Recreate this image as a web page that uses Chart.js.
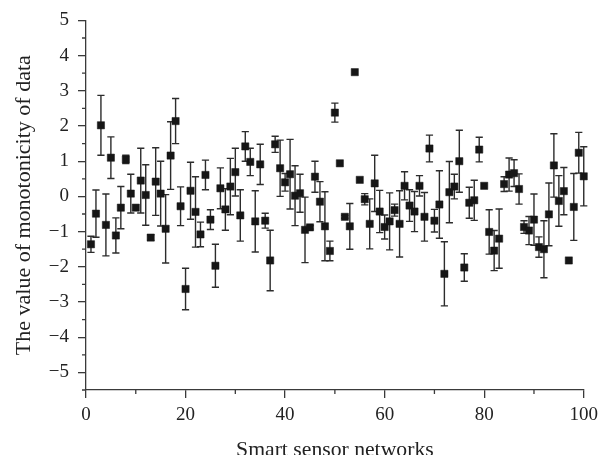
<!DOCTYPE html>
<html>
<head>
<meta charset="utf-8">
<script src="https://cdn.jsdelivr.net/npm/chart.js@4/dist/chart.umd.min.js"></script>
<style>
  html, body { margin: 0; padding: 0; background: #ffffff; }
  #wrap { width: 604px; height: 455px; }
</style>
</head>
<body>
<div id="wrap"><canvas id="chart" width="604" height="455"></canvas></div>
<script>
// Sensor network index (x) and measured monotonicity with its spread (±)
const nodes = [
  1, 2, 3, 4, 5, 6, 7, 8, 9, 10,
  11, 12, 13, 14, 15, 16, 17, 18, 19, 20,
  21, 22, 23, 24, 25, 26, 27, 28, 29, 30,
  31, 32, 33, 34, 35, 36, 37, 38, 39, 40,
  41, 42, 43, 44, 45, 46, 47, 48, 49, 50,
  51, 52, 53, 54, 55, 56, 57, 58, 59, 60,
  61, 62, 63, 64, 65, 66, 67, 68, 69, 70,
  71, 72, 73, 74, 75, 76, 77, 78, 79, 80,
  81, 82, 83, 84, 85, 86, 87, 88, 89, 90,
  91, 92, 93, 94, 95, 96, 97, 98, 99, 100
];
const monotonicity = [
  -1.36, -0.49, 2.02, -0.81, 1.10, -1.11, -0.32, 1.05, 0.08, -0.32,
  0.45, 0.04, -1.17, 0.42, 0.08, -0.92, 1.16, 2.14, -0.28, -2.63,
  0.16, -0.44, -1.08, 0.61, -0.66, -1.97, 0.23, -0.37, 0.28, 0.69,
  -0.54, 1.42, 0.98, -0.71, 0.91, -0.69, -1.82, 1.48, 0.80, 0.40,
  0.63, 0.02, 0.09, -0.95, -0.88, 0.56, -0.15, -0.85, -1.55, 2.38,
  0.94, -0.58, -0.85, 3.53, 0.47, -0.08, -0.78, 0.37, -0.43, -0.87,
  -0.71, -0.39, -0.78, 0.30, -0.26, -0.43, 0.30, -0.58, 1.36, -0.69,
  -0.23, -2.20, 0.12, 0.28, 1.00, -2.02, -0.18, -0.11, 1.33, 0.30,
  -1.01, -1.54, -1.20, 0.35, 0.62, 0.66, 0.21, -0.87, -0.97, -0.66,
  -1.44, -1.50, -0.51, 0.88, -0.13, 0.15, -1.82, -0.30, 1.24, 0.57
];
const deviation = [
  0.23, 0.67, 0.85, 0.88, 0.59, 0.50, 0.60, 0.12, 0.55, 0.00,
  0.92, 0.86, 0.08, 0.96, 0.92, 0.97, 0.96, 0.64, 0.55, 0.59,
  0.81, 1.00, 0.35, 0.42, 0.28, 0.61, 0.58, 0.59, 0.80, 0.68,
  0.73, 0.42, 0.39, 0.87, 0.57, 0.21, 0.86, 0.23, 0.80, 0.25,
  0.99, 0.85, 0.54, 0.93, 0.05, 0.44, 0.57, 0.98, 0.28, 0.27,
  0.00, 0.04, 0.65, 0.00, 0.00, 0.16, 0.71, 0.80, 0.60, 0.34,
  0.81, 0.17, 0.94, 0.40, 0.45, 0.57, 0.29, 0.69, 0.38, 0.32,
  0.96, 0.91, 0.87, 0.35, 0.88, 0.39, 0.44, 0.57, 0.35, 0.00,
  0.63, 0.57, 0.84, 0.21, 0.47, 0.38, 0.43, 0.18, 0.40, 0.73,
  0.29, 0.81, 0.89, 0.90, 0.72, 0.67, 0.00, 0.95, 0.58, 0.84
];

// Axis tick positions
const xMajorTicks = [0, 20, 40, 60, 80, 100];
const xMinorTicks = [10, 30, 50, 70, 90];
const yMajorTicks = [-5, -4, -3, -2, -1, 0, 1, 2, 3, 4, 5];
const yMinorTicks = [-5.5, -4.5, -3.5, -2.5, -1.5, -0.5, 0.5, 1.5, 2.5, 3.5, 4.5];

const FONT = "'Liberation Serif', 'Times New Roman', serif";
const AXIS_COLOR = '#3a3a3a';
const TEXT_COLOR = '#222222';
const MARK_COLOR = '#161616';

// Vertical error bars with caps, drawn under the square markers
const errorBars = {
  id: 'errorBars',
  beforeDatasetsDraw(chart) {
    const { ctx, scales: { x, y } } = chart;
    const cap = 3.6;
    ctx.save();
    ctx.strokeStyle = '#2c2c2c';
    ctx.lineWidth = 1.4;
    nodes.forEach((n, i) => {
      const e = deviation[i];
      if (!e) return;
      const px = x.getPixelForValue(n);
      const top = y.getPixelForValue(monotonicity[i] + e);
      const bot = y.getPixelForValue(monotonicity[i] - e);
      ctx.beginPath();
      ctx.moveTo(px, top); ctx.lineTo(px, bot);
      ctx.moveTo(px - cap, top); ctx.lineTo(px + cap, top);
      ctx.moveTo(px - cap, bot); ctx.lineTo(px + cap, bot);
      ctx.stroke();
    });
    ctx.restore();
  }
};

// Short unlabeled ticks between the labelled ones
const minorTicks = {
  id: 'minorTicks',
  afterDraw(chart) {
    const { ctx, scales: { x, y }, chartArea } = chart;
    const len = 4;
    ctx.save();
    ctx.strokeStyle = AXIS_COLOR;
    ctx.lineWidth = 1.3;
    ctx.beginPath();
    xMinorTicks.forEach(v => {
      const px = x.getPixelForValue(v);
      ctx.moveTo(px, chartArea.bottom);
      ctx.lineTo(px, chartArea.bottom + len);
    });
    yMinorTicks.forEach(v => {
      const py = y.getPixelForValue(v);
      ctx.moveTo(chartArea.left, py);
      ctx.lineTo(chartArea.left - len, py);
    });
    ctx.stroke();
    ctx.restore();
  }
};

const fmt = v => (v < 0 ? '\u2212' + Math.abs(v) : String(v));

new Chart(document.getElementById('chart'), {
  type: 'scatter',
  data: {
    datasets: [{
      data: nodes.map((n, i) => ({ x: n, y: monotonicity[i] })),
      pointStyle: 'rect',
      pointRadius: 5.1,
      pointHoverRadius: 5.1,
      backgroundColor: MARK_COLOR,
      borderColor: MARK_COLOR,
      borderWidth: 0.5,
      clip: false
    }]
  },
  options: {
    responsive: false,
    animation: false,
    devicePixelRatio: 1,
    layout: { padding: { top: 19, right: 16, left: 0, bottom: 0 } },
    plugins: {
      legend: { display: false },
      tooltip: { enabled: false }
    },
    scales: {
      x: {
        type: 'linear',
        min: 0,
        max: 100,
        afterBuildTicks: s => { s.ticks = xMajorTicks.map(v => ({ value: v })); },
        afterFit: s => { s.height = 65; },
        grid: { display: true, drawOnChartArea: false, drawTicks: true, tickLength: 8, color: AXIS_COLOR, lineWidth: 1.3 },
        border: { display: true, color: AXIS_COLOR, width: 1.3 },
        ticks: { font: { family: FONT, size: 19 }, color: TEXT_COLOR, padding: 6, maxRotation: 0, autoSkip: false, callback: fmt },
        title: { display: true, text: 'Smart sensor networks', color: TEXT_COLOR, font: { family: FONT, size: 21.7, lineHeight: 0.4 }, padding: 0 }
      },
      y: {
        type: 'linear',
        min: -5.5,
        max: 5,
        afterBuildTicks: s => { s.ticks = yMajorTicks.map(v => ({ value: v })); },
        afterFit: s => { s.width = 86; },
        grid: { display: true, drawOnChartArea: false, drawTicks: true, tickLength: 8, color: AXIS_COLOR, lineWidth: 1.3 },
        border: { display: true, color: AXIS_COLOR, width: 1.3 },
        ticks: { font: { family: FONT, size: 19 }, color: TEXT_COLOR, padding: 9, autoSkip: false, callback: fmt },
        title: { display: true, text: 'The value of monotonicity of data', color: TEXT_COLOR, font: { family: FONT, size: 22 }, padding: { top: 11.5, bottom: 0 } }
      }
    }
  },
  plugins: [errorBars, minorTicks]
});
</script>
</body>
</html>
